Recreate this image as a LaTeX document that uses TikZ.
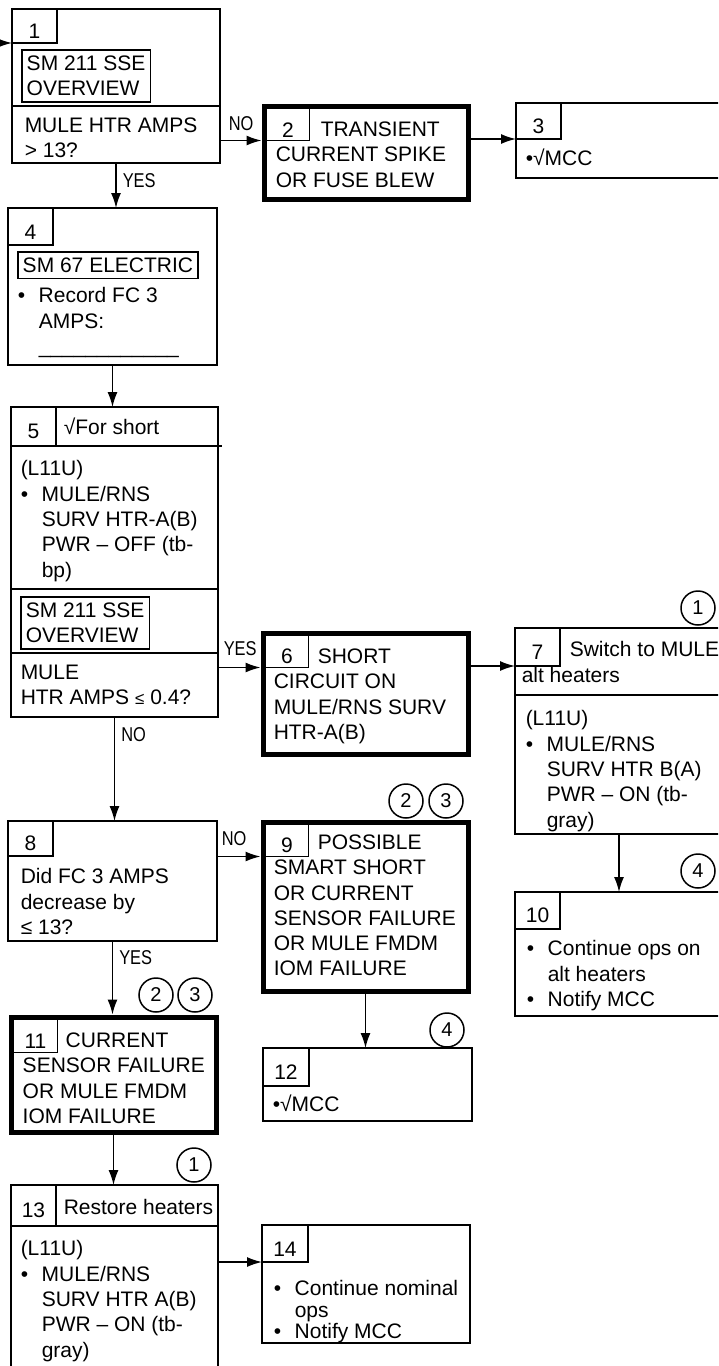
\documentclass[tikz,border=0pt]{standalone}
\usepackage{fontspec}
\setmainfont{Liberation Sans}
\newfontfamily\narrowfont[FakeStretch=0.82]{Liberation Sans}
\usetikzlibrary{arrows.meta,calc}
\newlength{\bw}\setlength{\bw}{21pt}
\def\bl{\makebox[\bw][l]{\textbullet}}
\def\ind{\hspace*{\bw}}
\tikzset{
	box/.style={draw, anchor=north west, inner sep=0pt, outer sep=0pt},
	heavy/.style={box, line width=5pt},
	tab/.style={draw, anchor=north west, inner sep=0pt, outer sep=0pt, minimum width=45pt, text height=25pt},
	frm/.style={draw, anchor=north west, align=left, inner xsep=5pt, inner ysep=6pt},
	txt/.style={anchor=north west, align=left, inner sep=0pt},
	one/.style={anchor=base west, inner sep=0pt},
	lbl/.style={font=\narrowfont\fontsize{20}{20}\selectfont, inner sep=0pt, anchor=base west},
	ref/.style={circle, draw, minimum size=34pt, inner sep=0pt, font=\fontsize{20}{20}\selectfont},
	arr/.style={-{Latex[length=15pt,width=10pt]}}
}
\begin{document}
\begin{tikzpicture}[x=1pt, y=-1pt, line width=1.5pt, font=\fontsize{21}{25.3}\selectfont]
		%%%%% START %%%%%
		\useasboundingbox (0,0) rectangle (718,1366);
		\clip (0,0) rectangle (718,1366);
		
		\node[box, minimum width=208pt, minimum height=154pt] (b1) at (12,9) {};
		\node[tab, minimum height=34pt] (t1) at (b1.north west) {1};
		\node[frm] (s1) at (21,49) {SM 211 SSE\\OVERVIEW};
		\draw ([yshift=-97pt]b1.north west) -- ([yshift=-97pt]b1.north east);
		\node[txt] (q1) at (24,117) {MULE HTR AMPS\\> 13?};
		
		\node[heavy, minimum width=204pt, minimum height=93pt] (b2) at (264,106) {};
		\node[tab, minimum width=43pt, minimum height=32pt] (t2) at ([xshift=2.5pt,yshift=-2.5pt]b2.north west) {2};
		\node[txt] (x2) at (275,121) {\hspace*{45pt}TRANSIENT\\CURRENT SPIKE\\OR FUSE BLEW};
		
		\node[box, minimum width=208pt, minimum height=75pt] (b3) at (516,103) {};
		\node[tab, minimum height=36pt] (t3) at (b3.north west) {3};
		\node[one] (x3) at (525,165) {\textbullet√MCC};
		
		\node[box, minimum width=209pt, minimum height=157pt] (b4) at (8,208) {};
		\node[tab, minimum height=37pt] (t4) at (b4.north west) {4};
		\node[frm] (s4) at (17,251) {SM 67 ELECTRIC};
		\node[txt] (x4) at (17,287) {\bl Record FC 3\\\ind AMPS:\\\ind\_\_\_\_\_\_\_\_\_\_\_\_};
		
		\node[box, minimum width=207pt, minimum height=310pt] (b5) at (11,407) {};
		\node[tab, minimum height=39pt] (t5) at (b5.north west) {5};
		\node[one] (h5) at (63,434) {√For short};
		\draw ([yshift=-39pt]b5.north west) -- ([xshift=4pt,yshift=-39pt]b5.north east);
		\node[txt] (x5) at (20,460) {(L11U)\\\bl MULE/RNS\\\ind SURV HTR-A(B)\\\ind PWR – OFF (tb-\\\ind bp)};
		\draw ([yshift=-182pt]b5.north west) -- ([yshift=-182pt]b5.north east);
		\node[frm] (s5) at (20,596) {SM 211 SSE\\OVERVIEW};
		\draw ([yshift=-246pt]b5.north west) -- ([yshift=-246pt]b5.north east);
		\node[txt] (q5) at (20,664) {MULE\\HTR AMPS {\fontsize{17}{17}\selectfont ≤} 0.4?};
		
		\node[heavy, minimum width=205pt, minimum height=121pt] (b6) at (263,633) {};
		\node[tab, minimum width=43pt, minimum height=32pt] (t6) at ([xshift=2.5pt,yshift=-2.5pt]b6.north west) {6};
		\node[txt] (x6) at (273,648) {\hspace*{44pt}SHORT\\CIRCUIT ON\\MULE/RNS SURV\\HTR-A(B)};
		
		\node[box, minimum width=208pt, minimum height=206pt] (b7) at (515,628) {};
		\node[tab, minimum height=38pt] (t7) at (b7.north west) {7};
		\node[txt] (h7) at (521,641) {\hspace*{48pt}Switch to MULE\\alt heaters};
		\draw ([yshift=-67pt]b7.north west) -- ([yshift=-67pt]b7.north east);
		\node[txt] (x7) at (525,710) {(L11U)\\\bl MULE/RNS\\\ind SURV HTR B(A)\\\ind PWR – ON (tb-\\\ind gray)};
		\node[ref] (c7) at (698,608) {1};
		
		\node[box, minimum width=209pt, minimum height=120pt] (b8) at (8,821) {};
		\node[tab, minimum height=35pt] (t8) at (b8.north west) {8};
		\node[txt] (x8) at (20,868) {Did FC 3 AMPS\\decrease by\\≤ 13?};
		
		\node[heavy, minimum width=205pt, minimum height=169pt] (b9) at (263,822) {};
		\node[tab, minimum width=43pt, minimum height=32pt] (t9) at ([xshift=2.5pt,yshift=-2.5pt]b9.north west) {9};
		\node[txt] (x9) at (273,834) {\hspace*{44pt}POSSIBLE\\SMART SHORT\\OR CURRENT\\SENSOR FAILURE\\OR MULE FMDM\\IOM FAILURE};
		\node[ref] (c9a) at (406,801) {2};
		\node[ref] (c9b) at (446,801) {3};
		
		\node[box, minimum width=208pt, minimum height=124pt] (b10) at (515,892) {};
		\node[tab, minimum height=37pt] (t10) at (b10.north west) {10};
		\node[txt] (x10) at (526,940) {\bl Continue ops on\\\ind alt heaters\\\bl Notify MCC};
		\node[ref] (c10) at (698,871) {4};
		
		\node[heavy, minimum width=205pt, minimum height=115pt] (b11) at (11,1017) {};
		\node[tab, minimum width=44pt, minimum height=33pt] (t11) at ([xshift=2.5pt,yshift=-2.5pt]b11.north west) {11};
		\node[txt] (x11) at (22,1032) {\hspace*{43pt}CURRENT\\SENSOR FAILURE\\OR MULE FMDM\\IOM FAILURE};
		\node[ref] (c11a) at (156,995) {2};
		\node[ref] (c11b) at (195,995) {3};
		
		\node[box, minimum width=209pt, minimum height=73pt] (b12) at (263,1048) {};
		\node[tab, minimum width=46pt, minimum height=38pt] (t12) at (b12.north west) {12};
		\node[one] (x12) at (272,1111) {\textbullet√MCC};
		\node[ref] (c12) at (447,1030) {4};
		
		\node[box, minimum width=207pt, minimum height=215pt] (b13) at (11,1185) {};
		\node[tab, minimum height=41pt] (t13) at (b13.north west) {13};
		\node[one] (h13) at (63,1214) {Restore heaters};
		\draw ([yshift=-41pt]b13.north west) -- ([yshift=-41pt]b13.north east);
		\node[txt] (x13) at (20,1240) {(L11U)\\\bl MULE/RNS\\\ind SURV HTR A(B)\\\ind PWR – ON (tb-\\\ind gray)};
		\node[ref] (c13) at (194,1165) {1};
		
		\node[box, minimum width=208pt, minimum height=118pt] (b14) at (262,1225) {};
		\node[tab, minimum width=46pt, minimum height=37pt] (t14) at (b14.north west) {14};
		\node[txt, font=\fontsize{21}{21.5}\selectfont] (x14) at (273,1280) {\bl Continue nominal\\\ind ops\\\bl Notify MCC};
		
		% connectors
		\coordinate (entry) at (0,43);
		\draw[arr] (entry) -- (b1.west |- entry);
		\draw[arr, shorten >=2.5pt] (b1.east |- t2.south) -- node[lbl, pos=0, xshift=8pt, yshift=10pt] (n1) {NO} (b2.west |- t2.south);
		\draw[arr] (b2.east |- t3.south) -- (b3.west |- t3.south);
		\draw[arr] (b1.south) -- node[lbl, pos=0, xshift=6pt, yshift=-24pt] (y1) {YES} (b1.south |- b4.north);
		\draw[arr] (b4.south) -- (b4.south |- b5.north);
		\draw[arr, shorten >=2.5pt] (b5.east |- t6.south) -- node[lbl, pos=0, xshift=5pt, yshift=12pt] (y5) {YES} (b6.west |- t6.south);
		\draw[arr] (b6.east |- t7.south) -- (b7.west |- t7.south);
		\draw[arr] (b7.south) -- (b7.south |- b10.north);
		\draw[arr] (b5.south) -- node[lbl, pos=0, xshift=6pt, yshift=-24pt] (n5) {NO} (b5.south |- b8.north);
		\draw[arr, shorten >=2.5pt] (b8.east |- t9.south) -- node[lbl, pos=0, xshift=4pt, yshift=11pt] (n8) {NO} (b9.west |- t9.south);
		\draw[arr, shorten >=2.5pt] (b8.south) -- node[lbl, pos=0, xshift=6pt, yshift=-23pt] (y8) {YES} (b8.south |- b11.north);
		\draw[arr] (b9.south) -- (b9.south |- b12.north);
		\draw[arr] (b11.south) -- (b11.south |- b13.north);
		\draw[arr] (b13.east |- t14.south) -- (b14.west |- t14.south);
		
		%%%%% END %%%%%
	\end{tikzpicture}
\end{document}
